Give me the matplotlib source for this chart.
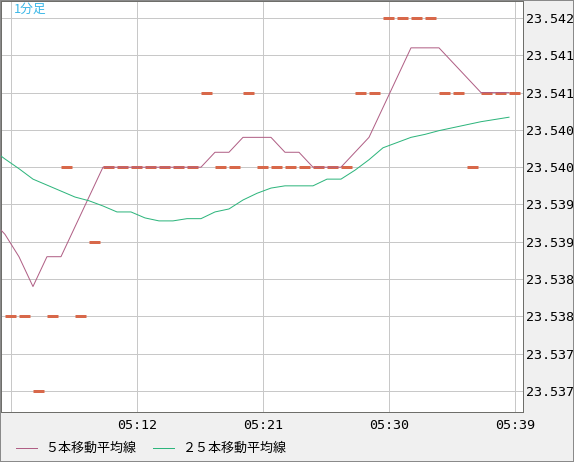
import numpy as np
import matplotlib
matplotlib.use("Agg")
import matplotlib.pyplot as plt
from matplotlib.lines import Line2D
from matplotlib.patches import Rectangle

# ---------------- data ----------------
times = ['05:02', '05:03', '05:04', '05:05', '05:06', '05:07', '05:08', '05:09', '05:10',
         '05:11', '05:12', '05:13', '05:14', '05:15', '05:16', '05:17', '05:18', '05:19',
         '05:20', '05:21', '05:22', '05:23', '05:24', '05:25', '05:26', '05:27', '05:28',
         '05:29', '05:30', '05:31', '05:32', '05:33', '05:34', '05:35', '05:36', '05:37',
         '05:38', '05:39']

close = [np.nan, 23.538, 23.538, 23.537, 23.538, 23.540, 23.538, 23.539, 23.540,
         23.540, 23.540, 23.540, 23.540, 23.540, 23.540, 23.541, 23.540, 23.540,
         23.541, 23.540, 23.540, 23.540, 23.540, 23.540, 23.540, 23.540, 23.541,
         23.541, 23.542, 23.542, 23.542, 23.542, 23.541, 23.541, 23.540, 23.541,
         23.541, 23.541]

ma5 = [23.5393, 23.5391, 23.5388, 23.5384, 23.5388, 23.5388, 23.5392, 23.5396, 23.5400,
       23.5400, 23.5400, 23.5400, 23.5400, 23.5400, 23.5400, 23.5400, 23.5402, 23.5402,
       23.5404, 23.5404, 23.5404, 23.5402, 23.5402, 23.5400, 23.5400, 23.5400, 23.5402,
       23.5404, 23.5408, 23.5412, 23.5416, 23.5416, 23.5416, 23.5414, 23.5412, 23.5410,
       23.5410, 23.5410]

ma25 = [23.54025, 23.54011, 23.53998, 23.53984, 23.53976, 23.53968, 23.53960, 23.53955,
        23.53948, 23.53940, 23.53940, 23.53932, 23.53928, 23.53928, 23.53931, 23.53931,
        23.53940, 23.53944, 23.53956, 23.53965, 23.53972, 23.53975, 23.53975, 23.53975,
        23.53984, 23.53984, 23.53996, 23.54010, 23.54026, 23.54033, 23.54040, 23.54044,
        23.54049, 23.54053, 23.54057, 23.54061, 23.54064, 23.54067]

xtick_times = ['05:03', '05:12', '05:21', '05:30', '05:39']
xtick_labels = ['', '05:12', '05:21', '05:30', '05:39']

ytick_values = [23.5370, 23.5375, 23.5380, 23.5385, 23.5390, 23.5395,
                23.5400, 23.5405, 23.5410, 23.5415, 23.5420]
ytick_labels = ['23.537', '23.537', '23.538', '23.538', '23.539', '23.539',
                '23.540', '23.540', '23.541', '23.541', '23.542']

legend_labels = ['５本移動平均線', '２５本移動平均線']
title = '1分足'

# ---------------- style ----------------
W, H = 574, 462
PX = 0.72  # points per pixel at dpi 100
c_candle = '#d8684a'
c_ma5 = '#b05f85'
c_ma25 = '#2db57c'
c_grid = '#c8c8c8'
c_frame = '#6e6e6a'
c_bg = '#f0f0f0'
CJK = ['Noto Sans CJK JP', 'DejaVu Sans']

fig = plt.figure(figsize=(W / 100, H / 100), dpi=100, facecolor=c_bg)
ax = fig.add_axes([1 / W, 50 / H, 522 / W, 411 / H])
ax.set_facecolor('white')

xs = np.arange(len(times))
ma_offset = -0.41

# candles (flat bars)
cl = np.array(close, dtype=float)
m = ~np.isnan(cl)
ax.hlines(cl[m], xs[m] - 0.39, xs[m] + 0.39, colors=c_candle, lw=3 * PX, zorder=3)

# moving averages
ax.plot(xs + ma_offset, ma5, color=c_ma5, lw=1 * PX, zorder=4)
ax.plot(xs + ma_offset, ma25, color=c_ma25, lw=1 * PX, zorder=4)

ax.set_xlim(0.307, 37.59)
ax.set_ylim(23.536718, 23.542228)

ax.set_xticks([times.index(t) for t in xtick_times])
ax.set_xticklabels(xtick_labels)
ax.set_yticks(ytick_values)
ax.set_yticklabels(ytick_labels)

ax.yaxis.tick_right()
ax.tick_params(axis='y', length=0, pad=2, labelsize=9.6, labelcolor='black',
               labelfontfamily='DejaVu Sans Mono')
ax.tick_params(axis='x', length=0, pad=5, labelsize=9.6, labelcolor='black',
               labelfontfamily='DejaVu Sans Mono')

ax.grid(True, color=c_grid, lw=1 * PX)
ax.set_axisbelow(True)
for s in ax.spines.values():
    s.set_color(c_frame)
    s.set_linewidth(1 * PX)

# title
fig.text(14 / W, 1 - 9.5 / H, title, color='#3cb8e8', fontsize=9.2,
         family=CJK, va='center', ha='left')

# legend
ly = 1 - 448 / H
fig.add_artist(Line2D([16 / W, 37 / W], [ly, ly], color=c_ma5, lw=1 * PX,
                      transform=fig.transFigure))
fig.text(45 / W, ly, legend_labels[0], fontsize=9.4, family=CJK, va='center', ha='left')
fig.add_artist(Line2D([153 / W, 174 / W], [ly, ly], color=c_ma25, lw=1 * PX,
                      transform=fig.transFigure))
fig.text(183 / W, ly, legend_labels[1], fontsize=9.4, family=CJK, va='center', ha='left')

# outer frame
fig.add_artist(Rectangle((0, 0), 1, 1, transform=fig.transFigure, fill=False,
                         edgecolor='#8a8a8a', lw=2 * PX, clip_on=False))

fig.savefig('out.png', dpi=100, facecolor=c_bg)
